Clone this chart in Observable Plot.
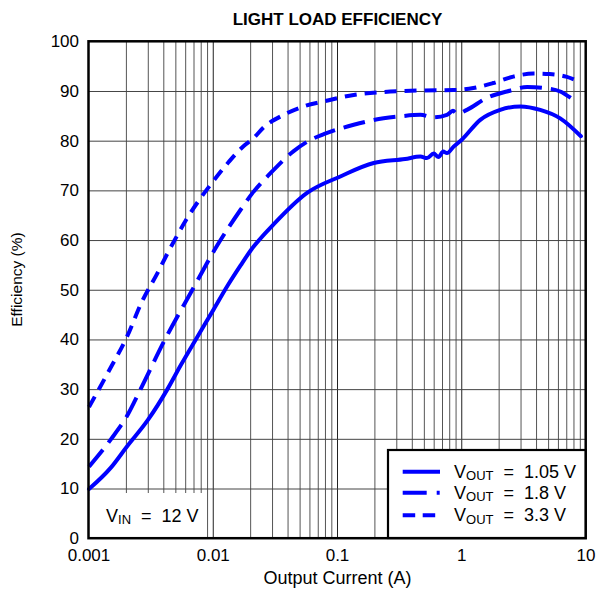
<!DOCTYPE html>
<html>
<head>
<meta charset="utf-8">
<script src="https://cdn.jsdelivr.net/npm/d3@7"></script>
<script src="https://cdn.jsdelivr.net/npm/@observablehq/plot@0.6"></script>
<style>
  body { margin: 0; background: #fff; font-family: "Liberation Sans", Arial, sans-serif; }
  #wrap { position: relative; width: 597px; height: 590px; }
  #overlay { position: absolute; left: 0; top: 0; pointer-events: none; }
</style>
</head>
<body>
<div id="wrap"></div>
<script>
// ---------- data ----------
const title = "LIGHT LOAD EFFICIENCY";
const xLabel = "Output Current (A)";
const yLabel = "Efficiency (%)";
const xTicks = [0.001, 0.01, 0.1, 1, 10];
const xTickLabels = ["0.001", "0.01", "0.1", "1", "10"];
const yTicks = [0, 10, 20, 30, 40, 50, 60, 70, 80, 90, 100];
const decades = [0.001, 0.01, 0.1, 1];
const minorMultipliers = [2, 3, 4, 5, 6, 7, 8, 9];
const seriesLabels = ["1.05 V", "1.8 V", "3.3 V"];
const vinValue = "12 V";

// V_OUT = 1.05 V
const x105 = [0.001, 0.0015, 0.002, 0.003, 0.00426, 0.0055, 0.0072, 0.01, 0.0131, 0.0166, 0.02, 0.0307, 0.0569, 0.1055, 0.1955, 0.35, 0.465, 0.525, 0.594, 0.65, 0.71, 0.76, 0.86, 1.0, 1.41, 2.04, 2.96, 4.28, 6.2, 9.1];
const y105 = [10, 14.3, 18.4, 24, 30, 35, 40, 46, 51, 55, 58, 63.3, 69.6, 72.9, 75.6, 76.4, 76.9, 76.6, 77.5, 76.8, 77.9, 77.6, 78.9, 80.3, 84.3, 86.3, 87.0, 86.3, 84.6, 81.0];
// V_OUT = 1.8 V
const x18 = [0.001, 0.0015, 0.002, 0.00259, 0.00407, 0.00676, 0.01075, 0.0166, 0.0206, 0.029, 0.0444, 0.06, 0.0775, 0.135, 0.235, 0.32, 0.465, 0.594, 0.76, 0.85, 0.92, 1.1, 1.59, 2.31, 3.36, 4.6, 6.2, 8.0, 8.5];
const y18 = [14.5, 20, 24.5, 30, 40, 50, 59, 66.2, 69.5, 73.6, 78.0, 80.2, 81.4, 83.3, 84.6, 85.0, 85.3, 84.8, 85.3, 86.1, 85.5, 86.3, 88.7, 90.0, 90.9, 90.7, 90.0, 88.3, 87.9];
// V_OUT = 3.3 V
const x33 = [0.001, 0.0015, 0.002, 0.00269, 0.00353, 0.00426, 0.00512, 0.00616, 0.00763, 0.00949, 0.01331, 0.0175, 0.0211, 0.0255, 0.0369, 0.0535, 0.0775, 0.135, 0.235, 0.465, 0.86, 1.24, 1.79, 2.6, 3.77, 5.1, 6.9, 8.8];
const y33 = [26.5, 34.5, 40.4, 47.9, 53.3, 57.3, 61.0, 64.5, 68.0, 71.2, 75.8, 79.0, 80.6, 82.8, 85.3, 87.0, 88.0, 89.3, 89.9, 90.2, 90.3, 90.7, 91.7, 93.0, 93.6, 93.5, 93.0, 92.0];

// ---------- build ----------
const toRows = (xs, ys) => xs.map((x, i) => ({x, y: ys[i]}));
const r105 = toRows(x105, y105);
const r18 = toRows(x18, y18);
const r33 = toRows(x33, y33);
const minorGrid = decades.flatMap(d => minorMultipliers.map(m => d * m));
const majorGrid = xTicks.slice(1, -1);
const yGrid = yTicks.slice(1, -1);

const blue = "#0000ff";
const font = "Liberation Sans, Arial, sans-serif";
const lineOpts = {x: "x", y: "y", stroke: blue, strokeWidth: 4, strokeLinecap: "butt", strokeLinejoin: "round", curve: "monotone-x"};

const plot = Plot.plot({
  width: 597,
  height: 590,
  marginLeft: 88.5,
  marginRight: 11.5,
  marginTop: 41.3,
  marginBottom: 51.8,
  style: {fontFamily: font, fontSize: "17px", color: "#000", background: "#fff"},
  x: {type: "log", domain: [0.001, 10]},
  y: {domain: [0, 100]},
  marks: [
    Plot.ruleX(minorGrid, {stroke: "#555", strokeWidth: 1}),
    Plot.ruleX(majorGrid, {stroke: "#222", strokeWidth: 1}),
    Plot.ruleY(yGrid, {stroke: "#444", strokeWidth: 1}),
    Plot.line(r105, {...lineOpts, strokeLinecap: "round"}),
    Plot.line(r18, {...lineOpts, strokeDasharray: "22,9"}),
    Plot.line(r33, {...lineOpts, strokeDasharray: "12,8"}),
    Plot.axisX({ticks: xTicks, tickFormat: d => xTickLabels[xTicks.indexOf(d)], tickSize: 0, tickPadding: 10.5, label: null, fontSize: 17}),
    Plot.axisY({ticks: yTicks, tickSize: 0, tickPadding: 10, label: null, fontSize: 17}),
    Plot.text([title], {text: d => d, frameAnchor: "top", lineAnchor: "middle", textAnchor: "middle", dy: -22.7, fontWeight: "bold", fontSize: 17}),
    Plot.text([xLabel], {text: d => d, frameAnchor: "bottom", lineAnchor: "middle", textAnchor: "middle", dy: 39.5, fontSize: 18}),
    Plot.text([yLabel], {text: d => d, frameAnchor: "left", lineAnchor: "middle", textAnchor: "middle", rotate: -90, dx: -71.8, dy: -10.7, fontSize: 15.5})
  ]
});

const wrap = document.getElementById("wrap");
wrap.appendChild(plot);

// overlay: V_IN note box, legend box and frame on top
const ns = "http://www.w3.org/2000/svg";
const ov = document.createElementNS(ns, "svg");
ov.setAttribute("id", "overlay");
ov.setAttribute("width", 597);
ov.setAttribute("height", 590);
ov.setAttribute("font-family", font);
const dashes = ["none", "24,10,3,10", "12.5,7.5"];
ov.innerHTML = `
  <rect x="89.5" y="493" width="116.5" height="44" fill="#fff"/>
  <text x="106" y="521.5" font-size="18" xml:space="preserve">V<tspan font-size="13" dy="2.5">IN</tspan><tspan dy="-2.5">  =  ${vinValue}</tspan></text>
  <rect x="88.5" y="41.3" width="497.2" height="496.9" fill="none" stroke="#000" stroke-width="2.5"/>
  <rect x="388" y="450" width="197.5" height="88" fill="#fff" stroke="#000" stroke-width="2.2"/>
  ${seriesLabels.map((s, i) => {
    const yc = [471.7, 492.7, 515.3][i];
    return `<line x1="402.7" x2="440" y1="${yc}" y2="${yc}" stroke="${blue}" stroke-width="4" ${dashes[i] === "none" ? "" : `stroke-dasharray="${dashes[i]}"`}/>
    <text x="454" y="${yc + 5.8}" font-size="18" xml:space="preserve">V<tspan font-size="13" dy="2.5">OUT</tspan><tspan dy="-2.5">  =  ${s}</tspan></text>`;
  }).join("")}
`;
wrap.appendChild(ov);
</script>
</body>
</html>
